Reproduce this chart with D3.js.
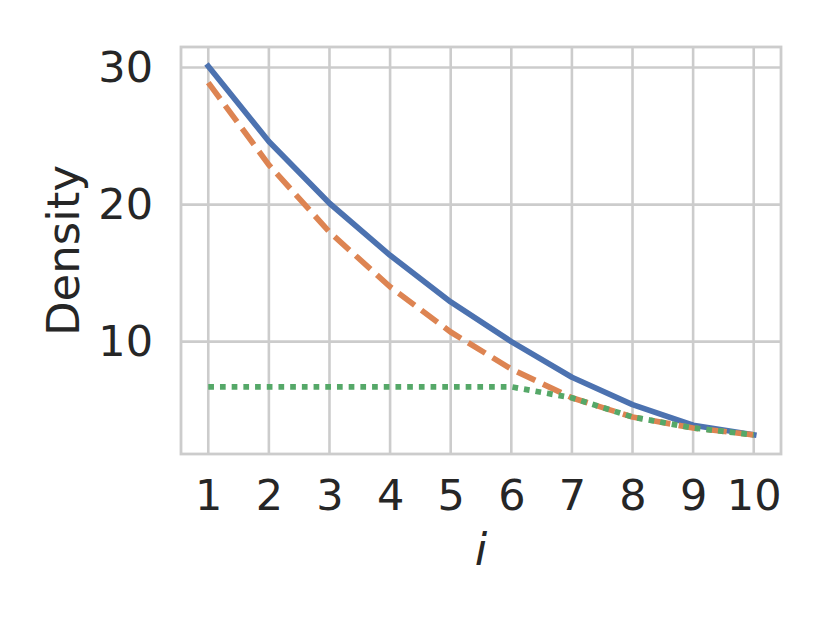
<!DOCTYPE html>
<html>
<head>
<meta charset="utf-8">
<script src="https://cdn.jsdelivr.net/npm/d3@7"></script>
<style>
  body { margin: 0; background: #fff; }
  text { font-family: "DejaVu Sans", sans-serif; fill: #262626; }
</style>
</head>
<body>
<div id="chart"></div>
<script>
const steps = [1, 2, 3, 4, 5, 6, 7, 8, 9, 10];
const solidVals = [30.1, 24.6, 20.1, 16.3, 12.9, 10.0, 7.4, 5.4, 3.9, 3.2];
const dashedVals = [28.9, 22.9, 18.0, 14.0, 10.7, 8.0, 5.9, 4.5, 3.7, 3.2];
const dottedVals = [6.7, 6.7, 6.7, 6.7, 6.7, 6.7, 5.9, 4.5, 3.7, 3.2];
const yTicks = [10, 20, 30];

const width = 830, height = 623;
const margin = {top: 47, right: 49, bottom: 169, left: 181};

const svg = d3.select("#chart")
  .append("svg")
  .attr("width", width)
  .attr("height", height);

const xScale = d3.scaleLinear()
  .domain([0.55, 10.45])
  .range([margin.left, width - margin.right]);

const yScale = d3.scaleLinear()
  .domain([1.8, 31.5])
  .range([height - margin.bottom, margin.top]);

// grid
svg.append("g")
  .selectAll("line")
  .data(steps)
  .enter()
  .append("line")
    .attr("x1", d => xScale(d))
    .attr("x2", d => xScale(d))
    .attr("y1", margin.top)
    .attr("y2", height - margin.bottom)
    .attr("stroke", "#cccccc")
    .attr("stroke-width", 2.6);

svg.append("g")
  .selectAll("line")
  .data(yTicks)
  .enter()
  .append("line")
    .attr("x1", margin.left)
    .attr("x2", width - margin.right)
    .attr("y1", d => yScale(d))
    .attr("y2", d => yScale(d))
    .attr("stroke", "#cccccc")
    .attr("stroke-width", 2.6);

// axes (labels only)
const xAxis = svg.append("g")
  .attr("transform", `translate(0, ${height - margin.bottom})`)
  .call(d3.axisBottom(xScale).tickValues(steps).tickSize(0).tickPadding(25).tickFormat(d3.format("d")));

const yAxis = svg.append("g")
  .attr("transform", `translate(${margin.left}, 0)`)
  .call(d3.axisLeft(yScale).tickValues(yTicks).tickSize(0).tickPadding(28));

svg.selectAll(".domain").remove();
svg.selectAll(".tick text")
  .attr("font-family", "DejaVu Sans")
  .attr("font-size", 43)
  .attr("fill", "#262626");

// frame
svg.append("rect")
  .attr("x", margin.left)
  .attr("y", margin.top)
  .attr("width", width - margin.left - margin.right)
  .attr("height", height - margin.top - margin.bottom)
  .attr("fill", "none")
  .attr("stroke", "#cccccc")
  .attr("stroke-width", 2.8);

const line = d3.line()
  .x((d, i) => xScale(steps[i]))
  .y(d => yScale(d));

svg.append("path")
  .datum(solidVals)
  .attr("d", line)
  .attr("fill", "none")
  .attr("stroke", "#4C72B0")
  .attr("stroke-width", 5.7)
  .attr("stroke-linecap", "square")
  .attr("stroke-linejoin", "round");

svg.append("path")
  .datum(dashedVals)
  .attr("d", line)
  .attr("fill", "none")
  .attr("stroke", "#DD8452")
  .attr("stroke-width", 5.7)
  .attr("stroke-dasharray", "20,8.5");

svg.append("path")
  .datum(dottedVals)
  .attr("d", line)
  .attr("fill", "none")
  .attr("stroke", "#55A868")
  .attr("stroke-width", 5.7)
  .attr("stroke-dasharray", "5.7,6");

// axis titles
svg.append("text")
  .attr("x", (margin.left + width - margin.right) / 2)
  .attr("y", 565)
  .attr("text-anchor", "middle")
  .attr("font-size", 45)
  .attr("font-style", "italic")
  .text("i");

svg.append("text")
  .attr("transform", `translate(79, ${(margin.top + height - margin.bottom) / 2}) rotate(-90)`)
  .attr("text-anchor", "middle")
  .attr("font-size", 45)
  .text("Density");
</script>
</body>
</html>
